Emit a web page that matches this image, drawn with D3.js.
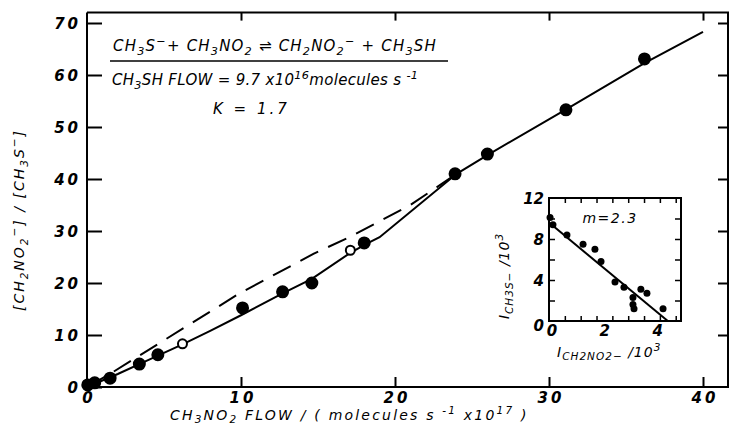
<!DOCTYPE html>
<html>
<head>
<meta charset="utf-8">
<script src="https://cdn.jsdelivr.net/npm/d3@7"></script>
<style>
  body { margin: 0; background: #fff; }
  svg { display: block; }
  text { font-family: "DejaVu Sans", sans-serif; font-style: italic; fill: #000; }
</style>
</head>
<body>
<div id="viz"></div>
<script>
var width = 729;
var height = 428;

// main plot: flow of CH3NO2 vs ion ratio
var flowX = [0.05, 0.5, 1.5, 3.4, 4.6, 6.2, 10.1, 12.7, 14.6, 17.1, 18.0, 23.9, 26.0, 31.1, 36.2];
var ratioY = [0.4, 0.8, 1.7, 4.4, 6.2, 8.3, 15.2, 18.3, 20.0, 26.3, 27.7, 41.0, 44.8, 53.3, 63.1];
var openPt = [0, 0, 0, 0, 0, 1, 0, 0, 0, 1, 0, 0, 0, 0, 0];

// solid (computed) curve
var fitX = [0, 2, 4, 6.2, 8, 10, 12.7, 14.6, 17.1, 18.2, 19, 24, 26, 31, 36.2, 40];
var fitY = [0, 2.5, 5.2, 8.2, 10.8, 13.8, 18.0, 20.8, 25.8, 27.6, 28.8, 41, 44.6, 53.2, 62.3, 68.3];

// dashed curve
var dashX = [0, 1.7, 9.9, 14.7, 17.1, 21, 24];
var dashY = [0, 2.9, 18.0, 25.6, 28.9, 35, 41];

var xTicks = [0, 10, 20, 30, 40];
var yTicks = [0, 10, 20, 30, 40, 50, 60, 70];

// inset
var insX = [0.04, 0.15, 0.68, 1.29, 1.74, 1.97, 2.5, 2.84, 3.18, 3.18, 3.22, 3.48, 3.71, 4.32];
var insY = [10.1, 9.4, 8.4, 7.5, 7.0, 5.8, 3.8, 3.3, 2.3, 1.6, 1.2, 3.1, 2.7, 1.2];
var insLineX = [0, 4.5];
var insLineY = [9.6, 0];
var insXLabels = [0, 2, 4];
var insYLabels = [0, 4, 8, 12];

var svg = d3.select("#viz").append("svg")
    .attr("width", width)
    .attr("height", height);

svg.append("rect").attr("width", width).attr("height", height).attr("fill", "#fff");

var x = d3.scaleLinear().domain([0, 40]).range([87, 703]);
var y = d3.scaleLinear().domain([0, 70]).range([387, 23]);

// write text with sub/superscripts: parts = [[text, "sub"|"sup"|""], ...]
function rich(t, parts, sub) {
  var shift = 0;
  sub = sub || 4;
  parts.forEach(function(p) {
    var target = p[1] === "sub" ? sub : p[1] === "sup" ? -6 : 0;
    var ts = t.append("tspan").attr("dy", target - shift).text(p[0]);
    if (p[1]) ts.style("font-size", "0.75em");
    shift = target;
  });
  return t;
}

// frame
var frame = svg.append("g").attr("stroke", "#000").attr("stroke-width", 2).attr("fill", "none");
frame.append("line").attr("x1", x(0)).attr("x2", x(0)).attr("y1", y(72)).attr("y2", y(0) + 3);
frame.append("line").attr("x1", x(0) - 2).attr("x2", width).attr("y1", y(0)).attr("y2", y(0));
frame.append("line").attr("x1", x(0)).attr("x2", width).attr("y1", y(72)).attr("y2", y(72));
frame.append("line").attr("x1", 728).attr("x2", 728).attr("y1", y(72)).attr("y2", y(0));

// ticks inward
svg.append("g").attr("transform", "translate(" + x(0) + ",0)")
    .call(d3.axisRight(y).tickValues(yTicks).tickSize(15).tickFormat(""))
    .call(function(g) { g.select(".domain").remove(); g.selectAll("line").attr("stroke-width", 2); });
svg.append("g").attr("transform", "translate(728,0)")
    .call(d3.axisLeft(y).tickValues(yTicks.slice(1)).tickSize(10).tickFormat(""))
    .call(function(g) { g.select(".domain").remove(); g.selectAll("line").attr("stroke-width", 2); });
svg.append("g").attr("transform", "translate(0," + y(0) + ")")
    .call(d3.axisTop(x).tickValues(xTicks.slice(1)).tickSize(10).tickFormat(""))
    .call(function(g) { g.select(".domain").remove(); g.selectAll("line").attr("stroke-width", 2); });
svg.append("g").attr("transform", "translate(0," + y(72) + ")")
    .call(d3.axisBottom(x).tickValues(xTicks.slice(1)).tickSize(8).tickFormat(""))
    .call(function(g) { g.select(".domain").remove(); g.selectAll("line").attr("stroke-width", 2); });

// tick labels
svg.append("g").selectAll("text").data(yTicks).join("text")
    .attr("x", x(0) - 6).attr("y", function(d) { return y(d) + 6; })
    .attr("text-anchor", "end").style("font-size", "15px").style("font-weight", "bold")
    .style("letter-spacing", "3px")
    .text(function(d) { return d; });
svg.append("g").selectAll("text").data(xTicks).join("text")
    .attr("x", function(d) { return x(d) + 2; }).attr("y", y(0) + 16)
    .attr("text-anchor", "middle").style("font-size", "15px").style("font-weight", "bold")
    .style("letter-spacing", "3px")
    .text(function(d) { return d; });

// axis titles
rich(svg.append("text").attr("x", 170).attr("y", 420).style("font-size", "14px").style("letter-spacing", "2.2px"),
  [["CH", ""], ["3", "sub"], ["NO", ""], ["2", "sub"], [" FLOW / ( molecules s     ", ""], ["-1", "sup"], [" x10", ""], ["17", "sup"], [" )", ""]], 3);

rich(svg.append("text").attr("transform", "translate(24,220) rotate(-90)")
    .attr("text-anchor", "middle").style("font-size", "14px").style("letter-spacing", "2px"),
  [["[CH", ""], ["2", "sub"], ["NO", ""], ["2", "sub"], ["−", "sup"], ["] / [CH", ""], ["3", "sub"], ["S", ""], ["−", "sup"], ["]", ""]]);

// curves
var line = d3.line().x(function(d) { return x(d[0]); }).y(function(d) { return y(d[1]); });
svg.append("path").datum(d3.zip(dashX, dashY)).attr("d", line)
    .attr("fill", "none").attr("stroke", "#000").attr("stroke-width", 2)
    .attr("stroke-dasharray", "20,11");
svg.append("path").datum(d3.zip(fitX, fitY)).attr("d", line)
    .attr("fill", "none").attr("stroke", "#000").attr("stroke-width", 2);

// points
svg.append("g").selectAll("circle").data(d3.zip(flowX, ratioY, openPt)).join("circle")
    .attr("cx", function(d) { return x(d[0]); })
    .attr("cy", function(d) { return y(d[1]); })
    .attr("r", function(d) { return d[2] ? 4.5 : 5.5; })
    .attr("fill", function(d) { return d[2] ? "#fff" : "#000"; })
    .attr("stroke", "#000").attr("stroke-width", 2);

// annotation
rich(svg.append("text").attr("x", 113).attr("y", 51).style("font-size", "15px").style("letter-spacing", "1.2px"),
  [["CH", ""], ["3", "sub"], ["S", ""], ["−", "sup"], ["+ CH", ""], ["3", "sub"], ["NO", ""], ["2", "sub"],
   [" ⇌ CH", ""], ["2", "sub"], ["NO", ""], ["2", "sub"], ["−", "sup"], [" + CH", ""], ["3", "sub"], ["SH", ""]]);
svg.append("line").attr("x1", 110).attr("x2", 448).attr("y1", 61).attr("y2", 61)
    .attr("stroke", "#000").attr("stroke-width", 1.5);
rich(svg.append("text").attr("x", 112).attr("y", 85).style("font-size", "15px").style("letter-spacing", "0.3px"),
  [["CH", ""], ["3", "sub"], ["SH  FLOW = 9.7 x10", ""], ["16", "sup"], ["molecules s  ", ""], ["-1", "sup"]]);
svg.append("text").attr("x", 213).attr("y", 114).style("font-size", "15px").style("letter-spacing", "3px")
    .text("K = 1.7");

// inset
var ix = d3.scaleLinear().domain([0, 5]).range([549, 681]);
var iy = d3.scaleLinear().domain([0, 12]).range([321, 198]);
var inset = svg.append("g");
inset.append("rect").attr("x", ix(0)).attr("y", iy(12)).attr("width", ix(5) - ix(0)).attr("height", iy(0) - iy(12))
    .attr("fill", "#fff").attr("stroke", "#000").attr("stroke-width", 2);
var ixt = d3.range(0.6, 5, 0.6);
var iyt = [2, 4, 6, 8, 10];
inset.append("g").attr("transform", "translate(" + ix(0) + ",0)")
    .call(d3.axisRight(iy).tickValues(iyt).tickSize(6).tickFormat(""));
inset.append("g").attr("transform", "translate(" + ix(5) + ",0)")
    .call(d3.axisLeft(iy).tickValues(iyt).tickSize(6).tickFormat(""));
inset.append("g").attr("transform", "translate(0," + iy(0) + ")")
    .call(d3.axisTop(ix).tickValues(ixt).tickSize(5).tickFormat(""));
inset.append("g").attr("transform", "translate(0," + iy(12) + ")")
    .call(d3.axisBottom(ix).tickValues(ixt).tickSize(5).tickFormat(""));
inset.selectAll(".domain").remove();
inset.selectAll(".tick line").attr("stroke-width", 1.5);

inset.append("g").selectAll("text").data(insYLabels).join("text")
    .attr("x", ix(0) - 5).attr("y", function(d) { return d === 0 ? iy(d) + 10 : iy(d) + 6; })
    .attr("text-anchor", "end").style("font-size", "15px").style("font-weight", "bold")
    .text(function(d) { return d; });
inset.append("g").selectAll("text").data(insXLabels).join("text")
    .attr("x", function(d) { return ix(d) + 3; }).attr("y", iy(0) + 15)
    .attr("text-anchor", "middle").style("font-size", "15px").style("font-weight", "bold")
    .text(function(d) { return d; });

inset.append("path").datum(d3.zip(insLineX, insLineY))
    .attr("d", d3.line().x(function(d) { return ix(d[0]); }).y(function(d) { return iy(d[1]); }))
    .attr("fill", "none").attr("stroke", "#000").attr("stroke-width", 2);
inset.append("g").selectAll("circle").data(d3.zip(insX, insY)).join("circle")
    .attr("cx", function(d) { return ix(d[0]); })
    .attr("cy", function(d) { return iy(d[1]); })
    .attr("r", 3.5).attr("fill", "#000");

inset.append("text").attr("x", 610).attr("y", 223).attr("text-anchor", "middle")
    .style("font-size", "14px").style("letter-spacing", "1.5px").text("m=2.3");
rich(inset.append("text").attr("x", 557).attr("y", 357).style("font-size", "14px").style("letter-spacing", "1px"),
  [["I", ""], ["CH", "sub"], ["2", "sub"], ["NO", "sub"], ["2", "sub"], ["−", "sub"], [" /10", ""], ["3", "sup"]], 3);
rich(inset.append("text").attr("transform", "translate(509,276) rotate(-90)")
    .attr("text-anchor", "middle").style("font-size", "14px").style("letter-spacing", "1px"),
  [["I", ""], ["CH", "sub"], ["3", "sub"], ["S", "sub"], ["−", "sub"], [" /10", ""], ["3", "sup"]]);
</script>
</body>
</html>
